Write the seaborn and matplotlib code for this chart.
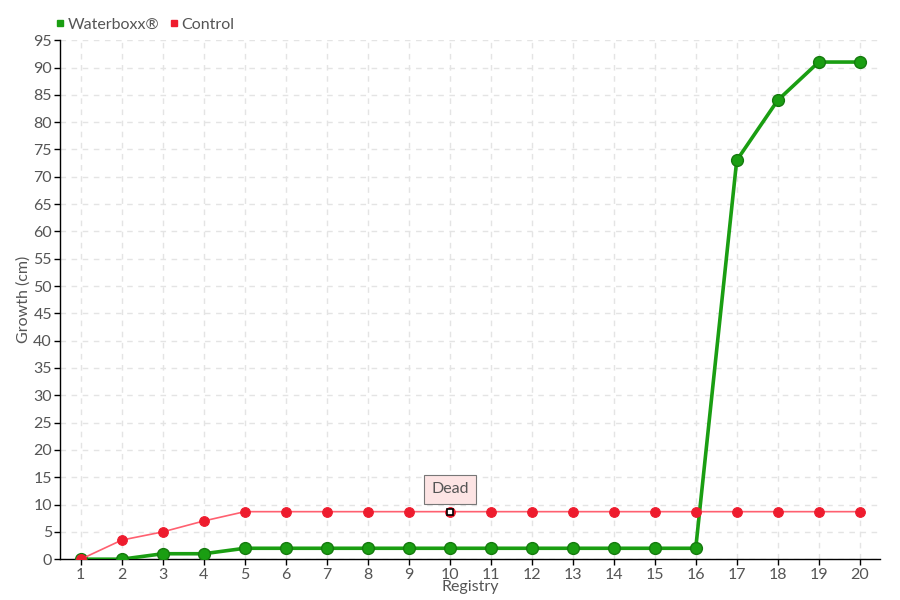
import matplotlib
matplotlib.use("Agg")
import matplotlib.pyplot as plt
import pandas as pd
import seaborn as sns
from matplotlib.lines import Line2D

registry = list(range(1, 21))
waterboxx = [0, 0, 1, 1, 2, 2, 2, 2, 2, 2, 2, 2, 2, 2, 2, 2, 73, 84, 91, 91]
control = [0, 3.5, 5, 7, 8.7, 8.7, 8.7, 8.7, 8.7, 8.7, 8.7, 8.7, 8.7, 8.7, 8.7, 8.7, 8.7, 8.7, 8.7, 8.7]
dead_index = 9  # Registry 10 of Control is marked "Dead"

GREEN = "#1a9e12"
RED = "#ee1c2e"
TEXT = "#555555"


def main() -> None:
    sns.set_theme(style="white")
    plt.rcParams["font.family"] = ["Lato", "DejaVu Sans"]

    df = pd.DataFrame({"registry": registry, "Waterboxx®": waterboxx, "Control": control})

    fig, ax = plt.subplots(figsize=(9, 6), dpi=100)
    fig.subplots_adjust(left=0.067, right=0.978, top=0.933, bottom=0.068)

    sns.lineplot(data=df, x="registry", y="Waterboxx®", ax=ax, color=GREEN, linewidth=2.6,
                 marker="o", markersize=8.5, markerfacecolor=GREEN, markeredgecolor="#157a0e",
                 markeredgewidth=1, zorder=3)
    sns.lineplot(data=df, x="registry", y="Control", ax=ax, color="#ff6070", linewidth=1.2,
                 marker="o", markersize=7, markerfacecolor=RED, markeredgecolor=RED, zorder=4)

    # "Dead" marker on control
    ax.plot(registry[dead_index], control[dead_index], marker="s", markersize=5,
            markerfacecolor="white", markeredgecolor="black", markeredgewidth=1.2, zorder=6,
            linestyle="none")
    ax.annotate("Dead", xy=(registry[dead_index], control[dead_index]), xytext=(0, 16),
                textcoords="offset points", ha="center", va="center", fontsize=11.5, color=TEXT,
                bbox=dict(boxstyle="square,pad=0.45", fc="#fde4e4", ec="#777777", lw=0.8),
                zorder=7)

    ax.set_xlim(0.5, 20.5)
    ax.set_ylim(0, 95)
    ax.set_xticks(registry)
    ax.set_yticks(range(0, 96, 5))
    ax.tick_params(axis="both", colors="black", labelcolor=TEXT, labelsize=11.5,
                   length=4, width=1, direction="out", bottom=True, left=True, pad=2)
    ax.grid(True, linestyle=(0, (4, 4)), color="#e4e4e4", linewidth=1)
    for side in ["top", "right"]:
        ax.spines[side].set_visible(False)
    for side in ["left", "bottom"]:
        ax.spines[side].set_color("black")
        ax.spines[side].set_linewidth(1)

    ax.set_xlabel("Registry", fontsize=11.5, color=TEXT, labelpad=-1)
    ax.set_ylabel("Growth (cm)", fontsize=11.5, color=TEXT, labelpad=2)

    handles = [
        Line2D([], [], marker="s", color="none", markerfacecolor=GREEN, markeredgecolor=GREEN, markersize=5),
        Line2D([], [], marker="s", color="none", markerfacecolor=RED, markeredgecolor=RED, markersize=5),
    ]
    fig.legend(handles, ["Waterboxx®", "Control"], loc="upper left", bbox_to_anchor=(0.045, 0.995),
               ncol=2, frameon=False, fontsize=11.5, handlelength=0.6, handletextpad=0.2,
               columnspacing=0.6, labelcolor=TEXT)

    fig.savefig("out.png", dpi=100)
    plt.close(fig)


if __name__ == "__main__":
    main()
